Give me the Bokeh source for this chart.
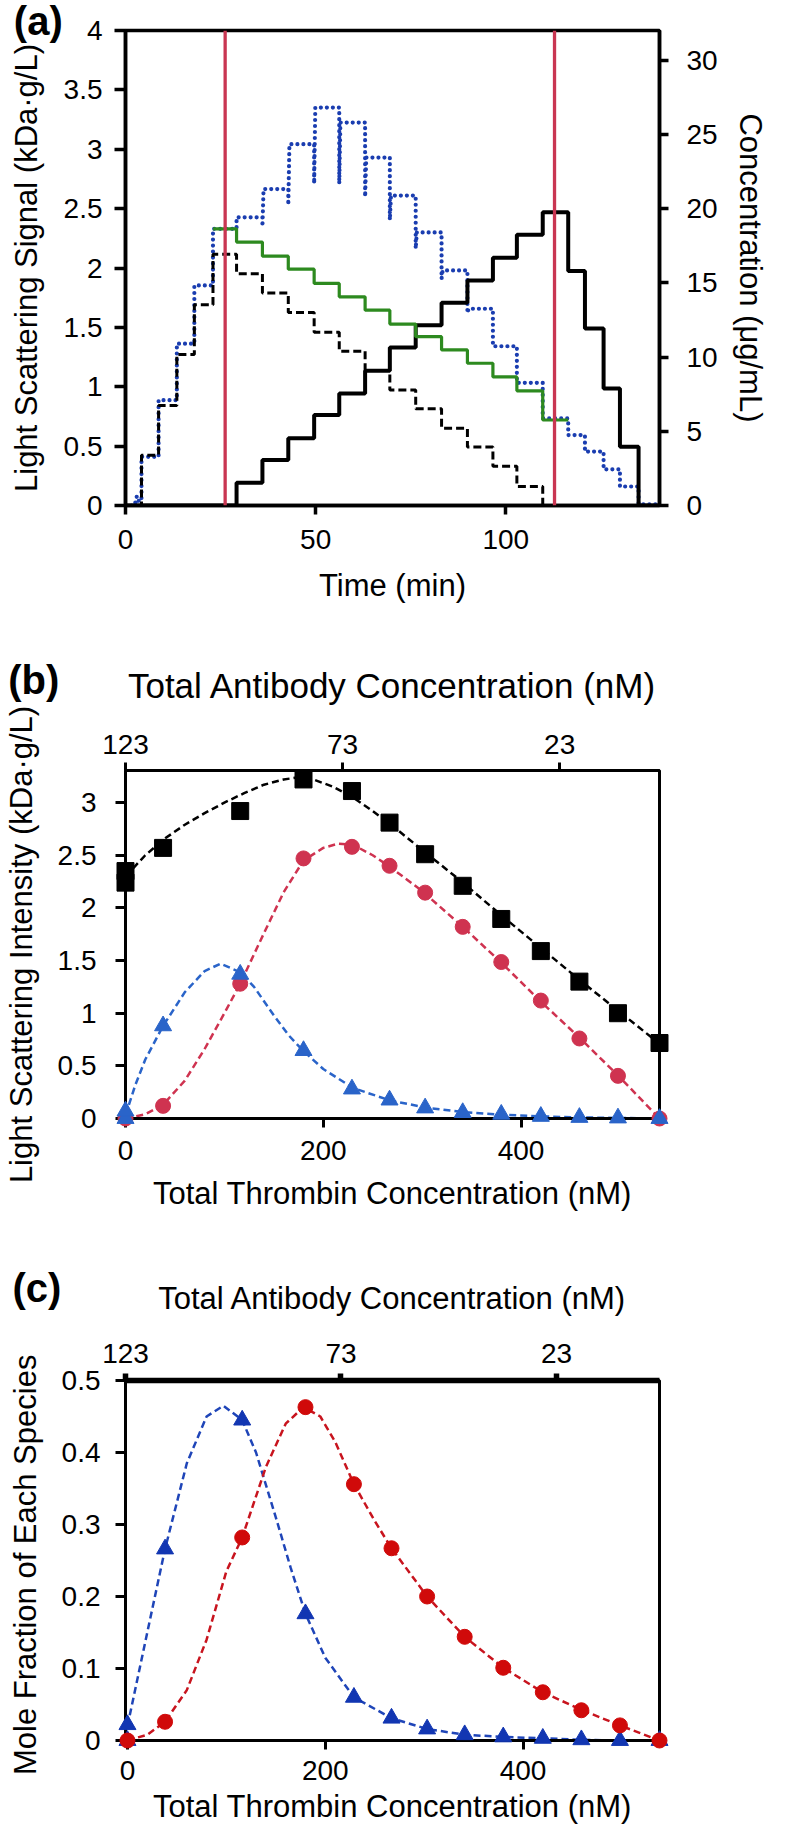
from bokeh.plotting import figure
from bokeh.models import Range1d, LinearAxis, FixedTicker, NumeralTickFormatter, Span
from bokeh.layouts import column
from bokeh.embed import file_html
from bokeh.resources import INLINE
from bokeh.core.properties import value

FONT = "Liberation Sans"

# ---------------- Panel (a) data ----------------
time_ticks = [0, 50, 100]
signal_ticks = [0, 0.5, 1, 1.5, 2, 2.5, 3, 3.5, 4]
conc_ticks = [0, 5, 10, 15, 20, 25, 30]

# measured light scattering signal (blue dotted), kDa.g/L
blue_t = [0, 2.4, 3.0, 3.6, 4.2, 4.2, 8.7, 8.7, 13.5, 13.5, 18.1, 18.1, 23.0, 23.0, 29.2, 29.2, 36.0,
          36.0, 36.3, 42.8, 42.8, 43.1, 49.6, 49.6, 49.9, 56.2, 56.2, 56.5, 63.0, 63.0, 63.3, 69.5,
          69.5, 69.8, 76.3, 76.3, 76.6, 83.1, 83.1, 83.4, 89.9, 89.9, 90.2, 96.6, 96.6, 102.9, 102.9,
          109.7, 109.7, 116.4, 116.4, 120.8, 120.8, 125.7, 125.7, 130.0, 130.0, 134.9, 134.9, 140.4]
blue_v = [0, 0, 0.08, 0.03, 0.05, 0.41, 0.41, 0.887, 0.887, 1.363, 1.363, 1.853, 1.853, 2.33, 2.33,
          2.427, 2.427, 2.35, 2.665, 2.665, 2.53, 3.043, 3.043, 2.71, 3.351, 3.351, 2.71, 3.225, 3.225,
          2.60, 2.93, 2.93, 2.405, 2.61, 2.61, 2.163, 2.30, 2.30, 1.91, 1.98, 1.98, 1.62, 1.657, 1.657,
          1.341, 1.341, 1.033, 1.033, 0.733, 0.733, 0.593, 0.593, 0.454, 0.454, 0.305, 0.305, 0.16,
          0.16, 0.01, 0.01]

# green step (kDa.g/L)
green_t = [23.0, 29.2, 36.0, 42.8, 49.6, 56.2, 63.0, 69.5, 76.3, 83.1, 89.9, 96.6, 102.9, 109.7, 116.4]
green_v = [2.33, 2.218, 2.10, 1.99, 1.87, 1.757, 1.645, 1.528, 1.422, 1.31, 1.198, 1.083, 0.966, 0.72, 0.72]

# antibody concentration (black dashed), ug/mL
antibody_t = [0, 4.2, 8.7, 13.5, 18.1, 23.0, 29.2, 36.0, 42.8, 49.6, 56.2, 63.0, 69.5, 76.3, 83.1,
              89.9, 96.6, 102.9, 109.7, 116.4]
antibody_c = [0, 3.38, 6.73, 10.18, 13.52, 16.93, 15.62, 14.31, 13.01, 11.68, 10.40, 9.09, 7.78,
              6.52, 5.20, 3.94, 2.64, 1.28, 0, 0]

# thrombin concentration (black solid), ug/mL
thrombin_t = [0, 29.2, 36.0, 42.8, 49.6, 56.2, 63.0, 69.5, 76.3, 83.1, 89.9, 96.6, 102.9, 109.7,
              116.4, 120.8, 125.7, 130.0, 134.9, 140.4]
thrombin_c = [0, 1.54, 3.07, 4.53, 6.09, 7.54, 9.07, 10.64, 12.14, 13.66, 15.16, 16.69, 18.24,
              19.76, 15.79, 11.92, 7.88, 3.96, 0, 0]

marker_lines_t = [26.2, 112.8]

# ---------------- Panel (b) data ----------------
thrombin_ticks = [0, 200, 400]
antibody_ticks = [123, 73, 23]
b_y_ticks = [0, 0.5, 1, 1.5, 2, 2.5, 3]

b_total_x = [0, 0, 38, 116, 180, 229, 267, 303, 341, 380, 420, 459, 498, 540]
b_total_y = [2.24, 2.35, 2.57, 2.92, 3.22, 3.11, 2.81, 2.51, 2.21, 1.895, 1.59, 1.30, 1.00, 0.717]
b_red_x = [0, 38, 116, 180, 229, 267, 303, 341, 380, 420, 459, 498, 540]
b_red_y = [0.0, 0.12, 1.28, 2.47, 2.58, 2.40, 2.145, 1.82, 1.486, 1.12, 0.76, 0.405, 0.0]
b_blue_x = [0, 0, 38, 116, 180, 229, 267, 303, 341, 380, 420, 459, 498, 540]
b_blue_y = [0.0, 0.07, 0.88, 1.37, 0.645, 0.28, 0.175, 0.10, 0.056, 0.04, 0.02, 0.01, 0.005, 0.0]

b_fit_total_x = [0, 10, 20, 40, 60, 80, 100, 120, 140, 160, 175, 190, 210, 230, 250, 270, 300, 340,
                 380, 420, 460, 500, 540]
b_fit_total_y = [2.30, 2.40, 2.50, 2.66, 2.79, 2.90, 3.00, 3.09, 3.17, 3.22, 3.24, 3.22, 3.15, 3.05,
                 2.92, 2.78, 2.55, 2.25, 1.93, 1.62, 1.31, 1.01, 0.71]
b_fit_red_x = [0, 20, 38, 60, 80, 100, 116, 140, 160, 180, 200, 215, 230, 250, 266, 300, 340, 380,
               420, 460, 500, 540]
b_fit_red_y = [0.0, 0.04, 0.13, 0.36, 0.66, 1.00, 1.28, 1.76, 2.15, 2.45, 2.57, 2.61, 2.60, 2.50,
               2.40, 2.16, 1.83, 1.48, 1.11, 0.76, 0.39, 0.0]
b_fit_blue_x = [0, 10, 20, 38, 60, 80, 96, 116, 130, 150, 165, 180, 200, 230, 268, 306, 344, 382,
                420, 460, 500, 540]
b_fit_blue_y = [0.03, 0.32, 0.56, 0.88, 1.20, 1.40, 1.47, 1.39, 1.25, 0.98, 0.79, 0.64, 0.47, 0.29,
                0.17, 0.10, 0.06, 0.035, 0.02, 0.01, 0.005, 0.0]

# ---------------- Panel (c) data ----------------
c_y_ticks = [0, 0.1, 0.2, 0.3, 0.4, 0.5]
c_blue_x = [0, 0, 38, 116, 180, 229, 267, 303, 341, 380, 420, 459, 498, 538]
c_blue_y = [0.0, 0.022, 0.266, 0.445, 0.176, 0.06, 0.031, 0.016, 0.008, 0.005, 0.003, 0.001, 0.0, 0.0]
c_red_x = [0, 38, 116, 180, 229, 267, 303, 341, 380, 420, 459, 498, 538]
c_red_y = [0.0, 0.026, 0.282, 0.463, 0.356, 0.267, 0.20, 0.144, 0.101, 0.067, 0.042, 0.021, 0.0]

c_fit_blue_x = [0, 10, 20, 38, 60, 80, 97, 116, 130, 150, 165, 180, 200, 229, 267, 303, 341, 380,
                420, 460, 500, 538]
c_fit_blue_y = [0.02, 0.085, 0.15, 0.266, 0.385, 0.45, 0.465, 0.445, 0.40, 0.31, 0.24, 0.176, 0.115,
                0.06, 0.031, 0.016, 0.008, 0.005, 0.003, 0.001, 0.0, 0.0]
c_fit_red_x = [0, 20, 38, 60, 80, 100, 116, 140, 160, 178, 195, 210, 229, 250, 267, 303, 341, 380,
               420, 460, 498, 538]
c_fit_red_y = [0.0, 0.008, 0.026, 0.07, 0.14, 0.235, 0.282, 0.38, 0.44, 0.463, 0.45, 0.415, 0.356,
               0.305, 0.267, 0.20, 0.144, 0.101, 0.067, 0.042, 0.021, 0.0]

panel_letters = ["(a)", "(b)", "(c)"]

FIG_W = 770


def style_axis(ax, lw, tick_out, standoff, label_standoff, label_size="31px", tick_size="28px"):
    ax.axis_line_width = lw
    ax.axis_line_color = "black"
    ax.major_tick_line_width = lw
    ax.major_tick_line_color = "black"
    ax.major_tick_in = 0
    ax.major_tick_out = tick_out
    ax.minor_tick_line_color = None
    ax.major_label_text_font = FONT
    ax.major_label_text_font_size = tick_size
    ax.major_label_text_color = "black"
    ax.major_label_standoff = standoff
    ax.axis_label_text_font = FONT
    ax.axis_label_text_font_size = label_size
    ax.axis_label_text_font_style = "normal"
    ax.axis_label_text_color = "black"
    ax.axis_label_standoff = label_standoff


def make_fig(height, x0, x1, y0, y1, left, right, top, bottom, outline_w):
    p = figure(width=FIG_W, height=height, x_range=Range1d(x0, x1), y_range=Range1d(y0, y1),
               output_backend="svg", toolbar_location=None, min_border_left=left,
               min_border_right=right, min_border_top=top, min_border_bottom=bottom)
    p.xgrid.visible = False
    p.ygrid.visible = False
    p.outline_line_color = "black"
    p.outline_line_width = outline_w
    p.background_fill_color = "white"
    p.border_fill_color = "white"
    # frame geometry, used to place the panel letter in the top-left corner of the canvas
    fw = FIG_W - left - right
    fh = height - top - bottom
    p._geom = (x0, x1, y0, y1, left, top, fw, fh)
    return p


def panel_letter(p, text, canvas_x, canvas_y):
    x0, x1, y0, y1, left, top, fw, fh = p._geom
    dx = (x1 - x0) / fw
    dy = (y1 - y0) / fh
    lx = x0 - (left - canvas_x) * dx
    ly = y1 + (top - canvas_y) * dy
    p.text(x=[lx], y=[ly], text=[text], text_font=value(FONT), text_font_size=value("40px"),
           text_font_style=value("bold"), text_baseline=value("middle"), text_align=value("left"),
           text_color="black", level="overlay")


# ================= Panel (a) =================
pa = make_fig(627, 0, 140.4, 0, 4, 115, 105, 30, 122, 3.5)
pa.extra_y_ranges = {"conc": Range1d(0, 32)}

pa.line(blue_t, blue_v, line_color="#1a3db0", line_width=4.2, line_dash="0 6", line_cap="round")
pa.step(antibody_t, antibody_c, mode="after", y_range_name="conc", line_color="black",
        line_width=3, line_dash="8 4")
pa.step(thrombin_t, thrombin_c, mode="after", y_range_name="conc", line_color="black", line_width=4)
pa.step(green_t, green_v, mode="after", line_color="#2d8a1f", line_width=3.2)
for t in marker_lines_t:
    pa.add_layout(Span(location=t, dimension="height", line_color="#c93652", line_width=3.3))

xa = pa.xaxis[0]
xa.ticker = FixedTicker(ticks=time_ticks)
xa.axis_label = "Time (min)"
style_axis(xa, 3.5, 9, 15, 16)
ya = pa.yaxis[0]
ya.ticker = FixedTicker(ticks=signal_ticks)
ya.formatter = NumeralTickFormatter(format="0.[0]")
ya.axis_label = "Light Scattering Signal (kDa·g/L)"
style_axis(ya, 3.5, 11, 12, 17)
ra = LinearAxis(y_range_name="conc", ticker=FixedTicker(ticks=conc_ticks),
                axis_label="Concentration (μg/mL)")
style_axis(ra, 3.5, 9, 18, 12)
pa.add_layout(ra, "right")
panel_letter(pa, panel_letters[0], 0, 20)

# ================= Panel (b) =================
pb = make_fig(610, 0, 540, 0, 3.305, 120, 104, 143, 119, 3)
pb.extra_x_ranges = {"ab": Range1d(123, 0)}

pb.line(b_fit_total_x, b_fit_total_y, line_color="black", line_width=2.5, line_dash="7 4")
pb.line(b_fit_red_x, b_fit_red_y, line_color="#cf3350", line_width=2.5, line_dash="7 4")
pb.line(b_fit_blue_x, b_fit_blue_y, line_color="#2a64c9", line_width=2.5, line_dash="7 4")
pb.scatter(b_total_x, b_total_y, marker="square", size=17, color="black", level="overlay")
pb.scatter(b_red_x, b_red_y, marker="circle", size=15, color="#cf3350", level="overlay")
pb.scatter(b_blue_x, b_blue_y, marker="triangle", size=17, color="#2a64c9", level="overlay")

xb = pb.xaxis[0]
xb.ticker = FixedTicker(ticks=thrombin_ticks)
xb.axis_label = "Total Thrombin Concentration (nM)"
style_axis(xb, 3, 9, 13, 13)
yb = pb.yaxis[0]
yb.ticker = FixedTicker(ticks=b_y_ticks)
yb.formatter = NumeralTickFormatter(format="0.[0]")
yb.axis_label = "Light Scattering Intensity (kDa·g/L)"
style_axis(yb, 3, 10, 19, 16)
tb = LinearAxis(x_range_name="ab", ticker=FixedTicker(ticks=antibody_ticks),
                axis_label="Total Antibody Concentration (nM)")
style_axis(tb, 3, 8, 9, 27, label_size="35px")
pb.add_layout(tb, "above")
panel_letter(pb, panel_letters[1], 0, 52)

# ================= Panel (c) =================
pc = make_fig(595, -2, 538, 0, 0.5, 116, 106, 143, 92, 3)
pc.extra_x_ranges = {"ab": Range1d(123, -0.9)}

pc.line(c_fit_blue_x, c_fit_blue_y, line_color="#1f45b8", line_width=2.5, line_dash="7 4")
pc.line(c_fit_red_x, c_fit_red_y, line_color="#c8141e", line_width=2.5, line_dash="7 4")
pc.scatter(c_blue_x, c_blue_y, marker="triangle", size=17, color="#1236b2", level="overlay")
pc.scatter(c_red_x, c_red_y, marker="circle", size=15, color="#d00a0a", level="overlay")

xc = pc.xaxis[0]
xc.ticker = FixedTicker(ticks=thrombin_ticks)
xc.axis_label = "Total Thrombin Concentration (nM)"
style_axis(xc, 3, 9, 11, 6)
yc = pc.yaxis[0]
yc.ticker = FixedTicker(ticks=c_y_ticks)
yc.formatter = NumeralTickFormatter(format="0.[0]")
yc.axis_label = "Mole Fraction of  Each Species"
style_axis(yc, 3, 10, 15, 16)
tc = LinearAxis(x_range_name="ab", ticker=FixedTicker(ticks=antibody_ticks),
                axis_label="Total Antibody Concentration (nM)")
style_axis(tc, 5.5, 7, 11, 25)
pc.add_layout(tc, "above")
panel_letter(pc, panel_letters[2], 0, 50)

layout = column(pa, pb, pc)
open("out.html", "w").write(file_html(layout, INLINE))
